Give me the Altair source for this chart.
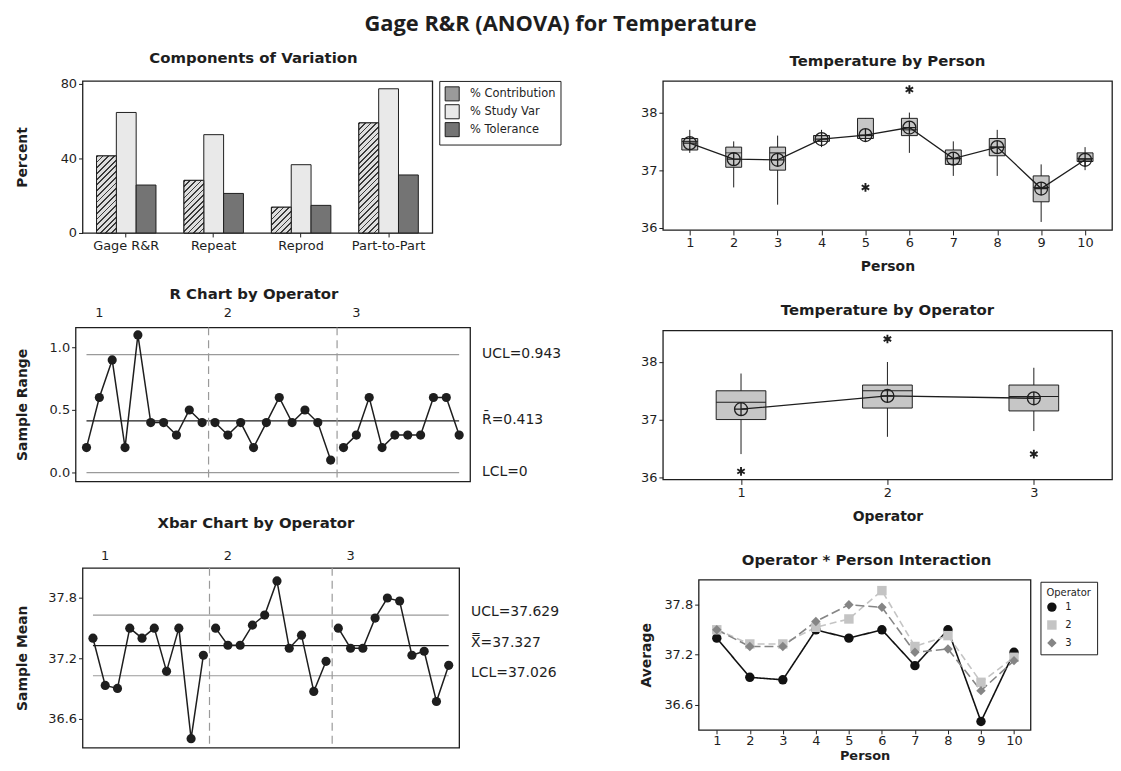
import altair as alt
import pandas as pd

FONT = "DejaVu Sans"
INK = "#1e1e1e"
LIMIT_GRAY = "#9a9a9a"
BOX_FILL = "#c6c6c6"

# ---------------- data ----------------
components = ["Gage R&R", "Repeat", "Reprod", "Part-to-Part"]
comp_series = ["% Contribution", "% Study Var", "% Tolerance"]
pct_contribution = [41.3, 28.2, 13.8, 59.0]
pct_study_var = [64.6, 52.7, 36.6, 77.3]
pct_tolerance = [25.7, 21.2, 14.8, 31.1]
comp_colors = ["#9a9a9a", "#e9e9e9", "#747474"]

operators = ["1", "2", "3"]
persons = [1, 2, 3, 4, 5, 6, 7, 8, 9, 10]

sample_range = [0.2, 0.6, 0.9, 0.2, 1.1, 0.4, 0.4, 0.3, 0.5, 0.4,
                0.4, 0.3, 0.4, 0.2, 0.4, 0.6, 0.4, 0.5, 0.4, 0.1,
                0.2, 0.3, 0.6, 0.2, 0.3, 0.3, 0.3, 0.6, 0.6, 0.3]
r_ucl, r_bar, r_lcl = 0.943, 0.413, 0.0

avg_op1 = [37.40, 36.93, 36.90, 37.50, 37.40, 37.50, 37.07, 37.50, 36.40, 37.23]
avg_op2 = [37.50, 37.33, 37.33, 37.53, 37.63, 37.97, 37.30, 37.43, 36.87, 37.17]
avg_op3 = [37.50, 37.30, 37.30, 37.60, 37.80, 37.77, 37.23, 37.27, 36.77, 37.13]
x_ucl, x_bar, x_lcl = 37.629, 37.327, 37.026

person_q1 = [37.35, 37.05, 37.00, 37.50, 37.55, 37.60, 37.10, 37.25, 36.45, 37.15]
person_q3 = [37.55, 37.40, 37.40, 37.60, 37.90, 37.90, 37.35, 37.55, 36.90, 37.30]
person_median = [37.5, 37.3, 37.3, 37.6, 37.6, 37.7, 37.2, 37.4, 36.7, 37.2]
person_low = [37.3, 36.7, 36.4, 37.4, 37.5, 37.3, 36.9, 36.9, 36.1, 37.0]
person_high = [37.7, 37.5, 37.6, 37.7, 37.9, 38.0, 37.5, 37.7, 37.1, 37.4]
person_mean = [37.47, 37.19, 37.18, 37.54, 37.61, 37.74, 37.20, 37.40, 36.68, 37.18]
person_outlier_at = [5, 6]
person_outlier_value = [36.7, 38.4]

oper_codes = [1, 2, 3]
oper_q1 = [37.00, 37.20, 37.15]
oper_q3 = [37.50, 37.60, 37.60]
oper_median = [37.3, 37.5, 37.4]
oper_low = [36.4, 36.7, 36.8]
oper_high = [37.8, 38.0, 37.9]
oper_mean = [37.18, 37.41, 37.37]
oper_outlier_at = [1, 2, 3]
oper_outlier_value = [36.1, 38.4, 36.4]

temp_ticks = [36, 37, 38]
temp_domain = [35.96, 38.55]

CIRCLE_PLUS = "M-1,0A1,1,0,1,1,1,0A1,1,0,1,1,-1,0ZM-1,0L1,0M0,-1L0,1"
ASTERISK = "M0,-1L0,1M-0.87,-0.5L0.87,0.5M-0.87,0.5L0.87,-0.5"


def lin(domain):
    return alt.Scale(domain=domain, nice=False, zero=False)


def ptitle(text, dx, offset):
    return alt.TitleParams(text, anchor="middle", dx=dx, offset=offset, font=FONT,
                           fontSize=15, fontWeight="bold", color=INK)


def spacer():
    return alt.Chart(pd.DataFrame({"v": [0]})).mark_point(opacity=0, size=1).encode(
        x=alt.X("v:Q", axis=None), y=alt.Y("v:Q", axis=None)
    ).properties(width=1, height=1, view=alt.ViewBackground(stroke="transparent"))


def cell(ch):
    return alt.hconcat(spacer(), ch, spacing=0).resolve_scale(
        color="independent", shape="independent")


def hatch_fill(w, h, pitch=4.0, frac=0.32, dark="#3a3a3a", light="#dedede"):
    """Diagonal '////' hatch as a striped linear gradient over a w x h bar."""
    s = (w + h) / (w * w + h * h)
    n = max(2, int(round((w + h) / (pitch * 1.4142))))
    stops = []
    for k in range(n):
        a = k / n
        b = (k + frac) / n
        c = (k + 1) / n
        stops += [alt.GradientStop(color=dark, offset=a), alt.GradientStop(color=dark, offset=b),
                  alt.GradientStop(color=light, offset=b), alt.GradientStop(color=light, offset=c)]
    return alt.LinearGradient(gradient="linear", stops=stops, x1=0, y1=0, x2=s * w, y2=s * h)


# ---------------- Components of Variation ----------------
COMP_W, COMP_H, COMP_MAX = 352, 153, 81.5
comp_rows = []
for i, c in enumerate(components):
    for s, vals in zip(comp_series, [pct_contribution, pct_study_var, pct_tolerance]):
        comp_rows.append({"component": c, "series": s, "percent": vals[i]})
comp_df = pd.DataFrame(comp_rows)

cx = alt.X("component:N", sort=components,
           scale=alt.Scale(paddingInner=0.32, paddingOuter=0.16),
           axis=alt.Axis(title=None, labelAngle=0, labelPadding=3, tickSize=4))
cxo = alt.XOffset("series:N", sort=comp_series,
                  scale=alt.Scale(domain=comp_series, paddingInner=0, paddingOuter=0))
cy = alt.Y("percent:Q", scale=lin([0, COMP_MAX]),
           axis=alt.Axis(title="Percent", values=[0, 40, 80], titleX=-60,
                         titleBaseline="middle"))

comp_base = alt.Chart(comp_df).mark_bar(stroke=INK, strokeWidth=1, opacity=1).encode(
    x=cx, xOffset=cxo, y=cy,
    color=alt.Color("series:N", sort=comp_series,
                    scale=alt.Scale(domain=comp_series, range=comp_colors),
                    legend=alt.Legend(title=None, orient="none", legendX=359, legendY=0,
                                      direction="vertical", strokeColor=INK, fillColor="white",
                                      padding=5, symbolType="square", symbolSize=200,
                                      symbolStrokeColor=INK, symbolStrokeWidth=1,
                                      labelFont=FONT, labelFontSize=11.5, labelColor=INK,
                                      labelOffset=10, rowPadding=-2)),
)
bar_w = COMP_W / 4 * (1 - 0.32) / 3
comp_layers = [comp_base]
for c, v in zip(components, pct_contribution):
    bar_h = v / COMP_MAX * COMP_H
    comp_layers.append(
        alt.Chart(comp_df)
        .transform_filter((alt.datum.component == c) & (alt.datum.series == comp_series[0]))
        .mark_bar(fill=hatch_fill(bar_w, bar_h), stroke=INK, strokeWidth=1, opacity=1)
        .encode(x=cx, xOffset=cxo, y=cy)
    )
comp_chart = alt.layer(*comp_layers).properties(
    width=COMP_W, height=COMP_H, title=ptitle("Components of Variation", -4, 12))


# ---------------- control charts ----------------
def control_panel(values, center, ucl, lcl, labels, y_domain, y_ticks, y_fmt, y_title,
                  title_x, width, height, label_gap, label_dy, op_label_y, title):
    n = len(values)
    per_op = n // len(operators)
    d = pd.DataFrame({
        "sample": list(range(1, n + 1)),
        "value": values,
        "operator": [operators[i // per_op] for i in range(n)],
    })
    lim = pd.DataFrame({"value": [ucl, lcl], "start": [1, 1], "end": [n, n]})
    cen = pd.DataFrame({"value": [center], "start": [1], "end": [n]})
    txt = pd.DataFrame({"value": [ucl, center, lcl], "label": labels})
    seps = pd.DataFrame({"pos": [per_op * k + 0.5 for k in range(1, len(operators))]})
    oplab = pd.DataFrame({"pos": [per_op * k + 2 for k in range(len(operators))],
                          "label": operators})
    xs = lin([0.15, n + 0.85])
    ys = lin(y_domain)
    ya = alt.Axis(title=y_title, values=y_ticks, format=y_fmt, titleX=title_x,
                  titleBaseline="middle")

    def X(f):
        return alt.X(f + ":Q", scale=xs, axis=None)

    def Y(f):
        return alt.Y(f + ":Q", scale=ys, axis=ya)

    lim_rules = alt.Chart(lim).mark_rule(color=LIMIT_GRAY, strokeWidth=1.2).encode(
        x=X("start"), x2="end:Q", y=Y("value"))
    cen_rule = alt.Chart(cen).mark_rule(color=INK, strokeWidth=1.3).encode(
        x=X("start"), x2="end:Q", y=Y("value"))
    sep_rules = alt.Chart(seps).mark_rule(color=LIMIT_GRAY, strokeWidth=1.2,
                                          strokeDash=[8, 5]).encode(x=X("pos"))
    line = alt.Chart(d).mark_line(color=INK, strokeWidth=1.5).encode(
        x=X("sample"), y=Y("value"), detail="operator:N")
    pts = alt.Chart(d).mark_circle(size=85, color=INK, opacity=1).encode(
        x=X("sample"), y=Y("value"))
    side = alt.Chart(txt).mark_text(align="left", baseline="middle", font=FONT, fontSize=14,
                                    color=INK, dy=label_dy).encode(
        x=alt.value(width + label_gap), y=Y("value"), text="label:N")
    tops = alt.Chart(oplab).mark_text(align="center", baseline="middle", font=FONT,
                                      fontSize=13, color=INK).encode(
        x=X("pos"), y=alt.value(op_label_y), text="label:N")
    return alt.layer(lim_rules, cen_rule, sep_rules, line, pts, side, tops).properties(
        width=width, height=height, title=title)


r_chart = control_panel(
    sample_range, r_bar, r_ucl, r_lcl,
    [f"UCL={r_ucl:.3f}", f"R\u0304={r_bar:.3f}", "LCL=0"],
    [-0.07, 1.16], [0.0, 0.5, 1.0], ".1f", "Sample Range", -53, 397, 155, 12, -1, -14,
    ptitle("R Chart by Operator", -19, 6))

xbar_values = avg_op1 + avg_op2 + avg_op3
xbar_chart = control_panel(
    xbar_values, x_bar, x_ucl, x_lcl,
    [f"UCL={x_ucl:.3f}", f"X\u033F={x_bar:.3f}", f"LCL={x_lcl:.3f}"],
    [36.31, 38.1], [36.6, 37.2, 37.8], ".1f", "Sample Mean", -60, 379, 181, 12, -3, -12,
    ptitle("Xbar Chart by Operator", -15, 19))


# ---------------- box plots ----------------
def box_panel(cats, q1, q3, med, low, high, mean, out_at, out_val, width, box_w,
              x_domain, x_title, title):
    d = pd.DataFrame({"cat": cats, "q1": q1, "q3": q3, "med": med, "low": low,
                      "high": high, "mean": mean})
    o = pd.DataFrame({"cat": out_at, "val": out_val})
    xs = lin(x_domain)
    ys = lin(temp_domain)
    xa = alt.Axis(title=x_title, values=cats, titleY=37, titleBaseline="middle",
                  tickSize=5, labelPadding=2)
    ya = alt.Axis(title=None, values=temp_ticks, tickSize=4, labelPadding=2)

    def X():
        return alt.X("cat:Q", scale=xs, axis=xa)

    def Y(f):
        return alt.Y(f + ":Q", scale=ys, axis=ya)

    base = alt.Chart(d)
    whisker = base.mark_rule(color=INK, strokeWidth=1).encode(x=X(), y=Y("low"), y2="high:Q")
    box = base.mark_bar(size=box_w, fill=BOX_FILL, stroke=INK, strokeWidth=1, opacity=1).encode(
        x=X(), y=Y("q1"), y2="q3:Q")
    median = base.mark_tick(orient="horizontal", size=box_w, thickness=1, color=INK,
                            opacity=1).encode(x=X(), y=Y("med"))
    mean_line = base.mark_line(color=INK, strokeWidth=1.3).encode(x=X(), y=Y("mean"))
    mean_pt = base.mark_point(shape=CIRCLE_PLUS, size=170, filled=False, stroke=INK,
                              strokeWidth=1.3, opacity=1).encode(x=X(), y=Y("mean"))
    outl = alt.Chart(o).mark_point(shape=ASTERISK, size=75, filled=False, stroke=INK,
                                   strokeWidth=1.9, opacity=1).encode(x=X(), y=Y("val"))
    return alt.layer(whisker, box, median, mean_line, mean_pt, outl).properties(
        width=width, height=150, title=title)


person_chart = box_panel(persons, person_q1, person_q3, person_median, person_low,
                         person_high, person_mean, person_outlier_at, person_outlier_value,
                         452, 16, [0.5, 10.5], "Person",
                         ptitle("Temperature by Person", 0, 12))
oper_chart = box_panel(oper_codes, oper_q1, oper_q3, oper_median, oper_low, oper_high,
                       oper_mean, oper_outlier_at, oper_outlier_value, 452, 50,
                       [0.5, 3.5], "Operator", ptitle("Temperature by Operator", 0, 12))

# ---------------- interaction ----------------
inter_df = pd.DataFrame({
    "person": persons * 3,
    "operator": [op for op in operators for _ in persons],
    "avg": avg_op1 + avg_op2 + avg_op3,
})
op_colors = ["#111111", "#c4c4c4", "#858585"]
op_dashes = [[1, 0], [7, 4], [9, 4]]
op_shapes = ["circle", "square", "diamond"]
ix = lin([0.45, 10.5])
iy = lin([36.3, 38.1])
ixa = alt.Axis(title="Person", values=persons, titleY=26, titleBaseline="middle",
               titleFontSize=13, tickSize=4, labelPadding=1)
iya = alt.Axis(title="Average", values=[36.6, 37.2, 37.8], format=".1f", titleX=-52,
               titleBaseline="middle")
inter_layers = []
for op, col, dash in zip(operators, op_colors, op_dashes):
    inter_layers.append(
        alt.Chart(inter_df).transform_filter(alt.datum.operator == op)
        .mark_line(color=col, strokeDash=dash, strokeWidth=1.6)
        .encode(x=alt.X("person:Q", scale=ix, axis=ixa), y=alt.Y("avg:Q", scale=iy, axis=iya))
    )
op_legend = alt.Legend(title="Operator", orient="none", legendX=344, legendY=2,
                       strokeColor=INK, fillColor="white", padding=6,
                       titleFont=FONT, titleFontSize=10, titleFontWeight="normal",
                       titleColor=INK, titlePadding=4, labelFont=FONT, labelFontSize=10,
                       labelColor=INK, symbolSize=90, rowPadding=7, labelOffset=8)
inter_layers.append(
    alt.Chart(inter_df).mark_point(filled=True, opacity=1, size=90).encode(
        x=alt.X("person:Q", scale=ix, axis=ixa),
        y=alt.Y("avg:Q", scale=iy, axis=iya),
        color=alt.Color("operator:N", scale=alt.Scale(domain=operators, range=op_colors),
                        legend=op_legend),
        shape=alt.Shape("operator:N", scale=alt.Scale(domain=operators, range=op_shapes),
                        legend=op_legend),
    )
)
inter_chart = alt.layer(*inter_layers).properties(
    width=334, height=151, title=ptitle("Operator * Person Interaction", 2, 12))

# ---------------- layout ----------------
left_col = alt.concat(cell(comp_chart), cell(r_chart), cell(xbar_chart), columns=1,
                      align="none", spacing=32).resolve_scale(
    color="independent", shape="independent")
right_col = alt.concat(cell(person_chart), cell(oper_chart), cell(inter_chart), columns=1,
                       align="none", spacing=28).resolve_scale(
    color="independent", shape="independent")

chart = alt.hconcat(
    left_col, right_col, spacing=74,
    title=alt.TitleParams("Gage R&R (ANOVA) for Temperature", font="Open Sans",
                          fontSize=22, fontWeight="bold", color=INK, anchor="middle",
                          dx=-2, offset=14),
).resolve_scale(color="independent", shape="independent").properties(
    padding={"left": 4, "top": 3, "right": 0, "bottom": 0},
    background="white",
).configure_view(stroke=INK, strokeWidth=1.3).configure_axis(
    labelFont=FONT, labelFontSize=13, labelColor=INK, titleFont=FONT, titleFontSize=14,
    titleFontWeight="bold", titleColor=INK, grid=False, domain=False, tickColor=INK,
    tickSize=4, labelPadding=2,
)

chart.save("out.html", embed_options={"renderer": "svg", "actions": False})
